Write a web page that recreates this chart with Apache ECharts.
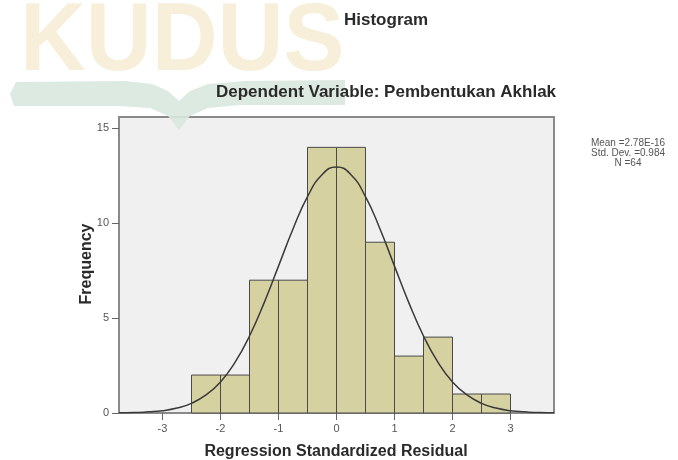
<!DOCTYPE html>
<html>
<head>
<meta charset="utf-8">
<style>
  html, body { margin: 0; padding: 0; background: #fff; }
  #chart { width: 678px; height: 460px; }
</style>
<script src="https://cdn.jsdelivr.net/npm/echarts@6/dist/echarts.min.js"></script>
</head>
<body>
<div id="chart"></div>
<script>
// histogram bins (regression standardized residual)
const binLeft = [-2.5, -2, -1.5, -1, -0.5, 0, 0.5, 1, 1.5, 2, 2.5];
const binRight = [-2, -1.5, -1, -0.5, 0, 0.5, 1, 1.5, 2, 2.5, 3];
const counts = [2, 2, 7, 7, 14, 14, 9, 3, 4, 1, 1];

// normal curve
const curveX = [-3.75, -3.5, -3.25, -3, -2.75, -2.5, -2.25, -2, -1.75, -1.5, -1.25, -1, -0.75, -0.5, -0.25,
  0, 0.25, 0.5, 0.75, 1, 1.25, 1.5, 1.75, 2, 2.25, 2.5, 2.75, 3, 3.25, 3.5, 3.75];
const curveY = [0.01, 0.02, 0.06, 0.12, 0.26, 0.51, 0.95, 1.64, 2.67, 4.06, 5.79, 7.74, 9.7, 11.4, 12.56,
  12.97, 12.56, 11.4, 9.7, 7.74, 5.79, 4.06, 2.67, 1.64, 0.95, 0.51, 0.26, 0.12, 0.06, 0.02, 0.01];

const xTicks = [-3, -2, -1, 0, 1, 2, 3];
const yTicks = [0, 5, 10, 15];
const statLines = ["Mean =2.78E-16", "Std. Dev. =0.984", "N =64"];

const chart = echarts.init(document.getElementById("chart"));

const bars = binLeft.map((x, i) => [x, binRight[i], counts[i]]);
const curve = curveX.map((x, i) => [x, curveY[i]]);

const textColor = "#2a2a2a";
const font = "Liberation Sans, Arial, sans-serif";

let option = {
  animation: false,
  backgroundColor: "#fff",
  grid: {
    left: 119,
    right: 124,
    top: 117,
    bottom: 47,
    show: true,
    backgroundColor: "#f0f0f0",
    borderColor: "#8a8a8a",
    borderWidth: 2,
  },
  xAxis: {
    type: "value",
    min: -3.75,
    max: 3.75,
    axisLine: { show: true, onZero: false, lineStyle: { color: "#8a8a8a", width: 2 } },
    axisTick: { show: true, customValues: xTicks, length: 7, lineStyle: { color: "#666" } },
    axisLabel: { customValues: xTicks, margin: 10, fontSize: 11, color: "#555", fontFamily: font },
    splitLine: { show: false },
  },
  yAxis: {
    type: "value",
    min: 0,
    max: 15.6,
    axisLine: { show: true, onZero: false, lineStyle: { color: "#8a8a8a", width: 2 } },
    axisTick: { show: true, customValues: yTicks, length: 7, lineStyle: { color: "#666" } },
    axisLabel: { customValues: yTicks, margin: 10, fontSize: 11, color: "#555", fontFamily: font },
    splitLine: { show: false },
  },
  graphic: [
    // watermark
    {
      type: "text",
      x: 20,
      y: 44,
      scaleX: 0.95,
      z: -10,
      style: {
        text: "KUDUS",
        fontSize: 96,
        fontWeight: "bold",
        fontFamily: font,
        fill: "#f7efda",
        verticalAlign: "middle",
      },
    },
    {
      type: "polygon",
      z: 1,
      shape: {
        points: [
          [16, 82], [125, 81], [152, 84], [168, 91], [179, 101], [190, 91], [208, 84],
          [245, 81], [345, 80], [345, 105], [240, 105], [208, 108], [190, 116], [179, 130],
          [168, 116], [150, 108], [118, 106], [14, 106], [10, 94],
        ],
      },
      style: { fill: "#d9e8de", opacity: 0.9 },
    },
    {
      type: "text",
      x: 344,
      y: 20,
      z: 2,
      style: { text: "Histogram", fontSize: 17, fontWeight: "bold", fontFamily: font, fill: textColor, verticalAlign: "middle" },
    },
    {
      type: "text",
      x: 386,
      y: 92,
      z: 2,
      style: {
        text: "Dependent Variable: Pembentukan Akhlak",
        fontSize: 17,
        fontWeight: "bold",
        fontFamily: font,
        fill: textColor,
        align: "center",
        verticalAlign: "middle",
      },
    },
    {
      type: "text",
      x: 87,
      y: 264,
      rotation: Math.PI / 2,
      style: { text: "Frequency", fontSize: 16, fontWeight: "bold", fontFamily: font, fill: textColor, align: "center", verticalAlign: "middle" },
    },
    {
      type: "text",
      x: 336,
      y: 452,
      style: {
        text: "Regression Standardized Residual",
        fontSize: 16,
        fontWeight: "bold",
        fontFamily: font,
        fill: textColor,
        align: "center",
        verticalAlign: "middle",
      },
    },
    {
      type: "text",
      x: 628,
      y: 138,
      style: {
        text: statLines.join("\n"),
        fontSize: 10,
        lineHeight: 10,
        fontFamily: font,
        fill: "#555",
        align: "center",
        verticalAlign: "top",
      },
    },
  ],
  series: [
    {
      type: "custom",
      z: 2,
      encode: { x: [0, 1], y: 2 },
      data: bars,
      renderItem: (params, api) => {
        const p0 = api.coord([api.value(0), api.value(2)]);
        const p1 = api.coord([api.value(1), 0]);
        return {
          type: "rect",
          shape: { x: p0[0], y: p0[1], width: p1[0] - p0[0], height: p1[1] - p0[1] },
          style: { fill: "#d5d1a1", stroke: "#4a4a4a", lineWidth: 1 },
        };
      },
    },
    {
      type: "line",
      z: 3,
      data: curve,
      smooth: true,
      showSymbol: false,
      lineStyle: { color: "#3a3a3a", width: 1.5 },
    },
  ],
};

option && chart.setOption(option);
</script>
</body>
</html>
